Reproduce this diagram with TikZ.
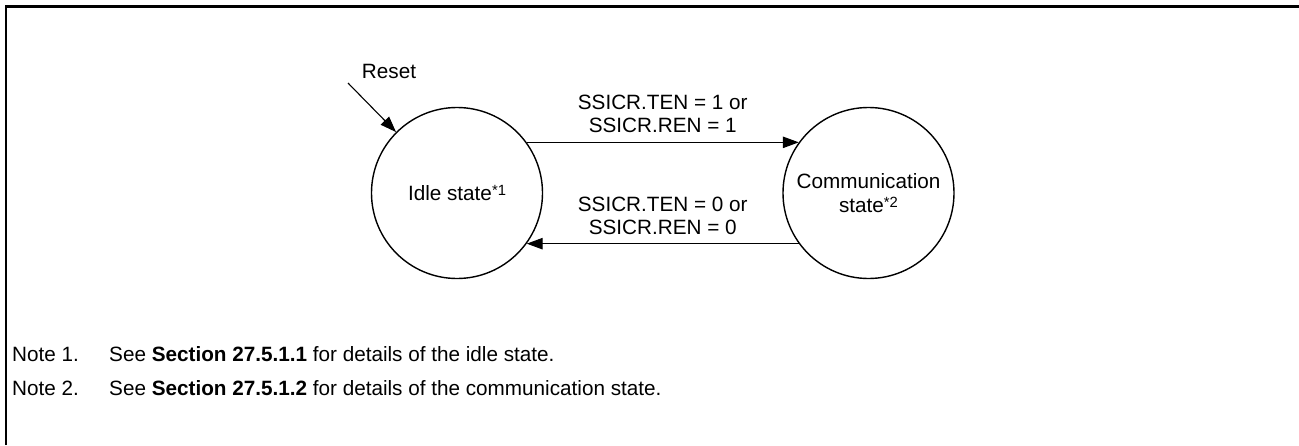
\documentclass[tikz,border=0pt]{standalone}
\usepackage{fontspec}
\setmainfont{Liberation Sans}
\usetikzlibrary{arrows.meta}
\newcommand{\supstar}[1]{\raisebox{4.5pt}{\fontsize{14.8}{14.8}\selectfont #1}}
\begin{document}
\begin{tikzpicture}[x=1pt,y=-1pt,
  txt/.style={font=\fontsize{20.7}{23.6}\selectfont, inner sep=0pt, align=center},
  statenode/.style={draw, circle, line width=1.4pt, minimum size=171pt, inner sep=0pt, align=center, font=\fontsize{20.7}{23.2}\selectfont},
  arr/.style={-{Triangle[length=16pt,width=11.5pt]}, line width=1.1pt},
  framel/.style={line width=2.2pt}]
\useasboundingbox (0,0) rectangle (1299,445);
\draw[framel] (6,445) -- (6,6.5) -- (1299,6.5);

\node[statenode] (idle) at (457,193) {Idle state\supstar{*1}};
\node[statenode] (comm) at (868.5,193) {Communication\\state\supstar{*2}};

\node[txt, anchor=base] (reset) at (389,78.5) {Reset};
\coordinate (rs) at (348,83);
\draw[arr] (rs) -- (idle.135);

\draw[arr] (idle.36) -- (comm.144);
\draw[arr] (comm.216) -- (idle.-36);

\node[txt, anchor=south] (lab1) at (662.75,133) {SSICR.TEN = 1 or\\SSICR.REN = 1};
\node[txt, anchor=south] (lab2) at (662.75,235) {SSICR.TEN = 0 or\\SSICR.REN = 0};

\node[txt, anchor=base west] (n1) at (12,361) {Note 1.};
\node[txt, anchor=base west] (n1t) at (109,361) {See \textbf{Section 27.5.1.1} for details of the idle state.};
\node[txt, anchor=base west] (n2) at (12,395) {Note 2.};
\node[txt, anchor=base west] (n2t) at (109,395) {See \textbf{Section 27.5.1.2} for details of the communication state.};
\end{tikzpicture}
\end{document}
